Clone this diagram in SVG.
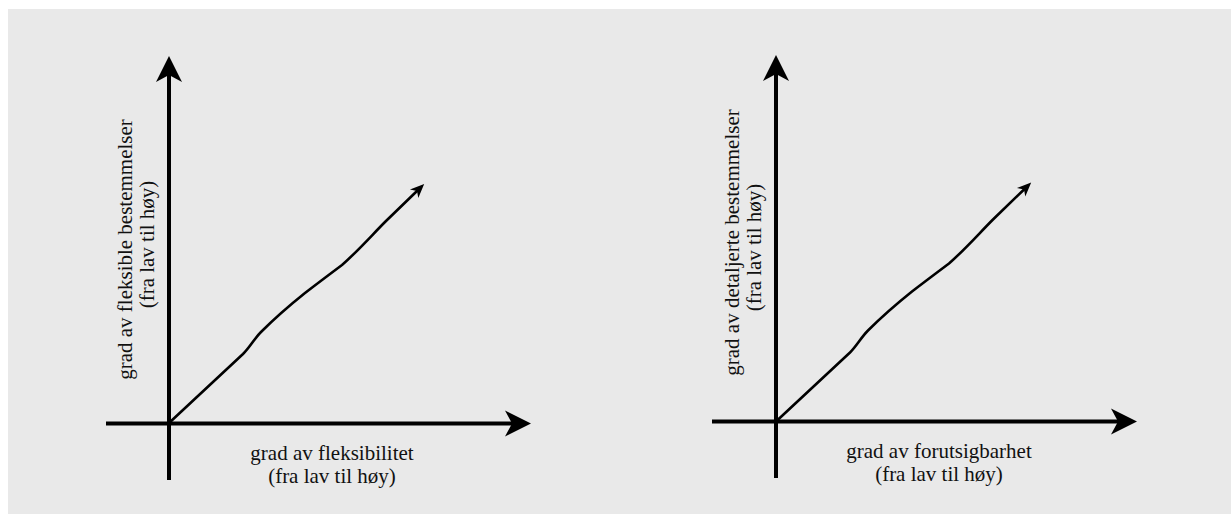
<svg xmlns="http://www.w3.org/2000/svg" width="1232" height="514" viewBox="0 0 1232 514">
  <style>
    .axis { stroke: #000; stroke-width: 4; fill: none; marker-end: url(#bigArrow); }
    .curve { stroke: #000; stroke-width: 2.6; fill: none; stroke-linejoin: round; stroke-linecap: round; marker-end: url(#smallArrow); }
    .lbl { font-size: 21px; fill: #111; text-anchor: middle; }
  </style>
  <defs>
    <marker id="bigArrow" markerUnits="userSpaceOnUse" markerWidth="30" markerHeight="30" refX="7" refY="13" orient="auto" overflow="visible">
      <path d="M0,0 L26,13 L0,26 L7,13 Z" fill="#000"/>
    </marker>
    <marker id="smallArrow" markerUnits="userSpaceOnUse" markerWidth="16" markerHeight="14" refX="4" refY="6" orient="auto" overflow="visible">
      <path d="M0,0 L14,6 L0,12 L4,6 Z" fill="#000"/>
    </marker>
    <path id="curveShape" d="M169,423 L243,354 C250,347 254,339 261,332 C275,318 290,305 305,293 C318,283 330,274 342,265 C358,251 372,235 386,221 L417,191"/>
  </defs>
  <rect x="8" y="9" width="1223" height="505" fill="#e9e9e9"/>

  <g id="connectors">
    <line class="axis" x1="169" y1="480" x2="169" y2="75"/>
    <line class="axis" x1="106" y1="423.5" x2="512" y2="423.5"/>
    <use href="#curveShape" class="curve"/>
    <line class="axis" x1="776" y1="478" x2="776" y2="74"/>
    <line class="axis" x1="712" y1="421.5" x2="1118" y2="421.5"/>
    <use href="#curveShape" class="curve" transform="translate(607,-1.5)"/>
  </g>

  <g id="left-y-label" font-family="'Liberation Serif', 'Times New Roman', Tinos, 'DejaVu Serif', serif">
    <text class="lbl" transform="translate(132,249.5) rotate(-90)"><tspan x="0" y="0">grad av fleksible bestemmelser</tspan><tspan x="5" y="22">(fra lav til høy)</tspan></text>
  </g>
  <g id="left-x-label" font-family="'Liberation Serif', 'Times New Roman', Tinos, 'DejaVu Serif', serif">
    <text class="lbl"><tspan x="332" y="460">grad av fleksibilitet</tspan><tspan x="332" y="483">(fra lav til høy)</tspan></text>
  </g>
  <g id="right-y-label" font-family="'Liberation Serif', 'Times New Roman', Tinos, 'DejaVu Serif', serif">
    <text class="lbl" transform="translate(739,242.5) rotate(-90)"><tspan x="0" y="0">grad av detaljerte bestemmelser</tspan><tspan x="-5" y="22">(fra lav til høy)</tspan></text>
  </g>
  <g id="right-x-label" font-family="'Liberation Serif', 'Times New Roman', Tinos, 'DejaVu Serif', serif">
    <text class="lbl"><tspan x="939" y="458">grad av forutsigbarhet</tspan><tspan x="939" y="481">(fra lav til høy)</tspan></text>
  </g>
</svg>
